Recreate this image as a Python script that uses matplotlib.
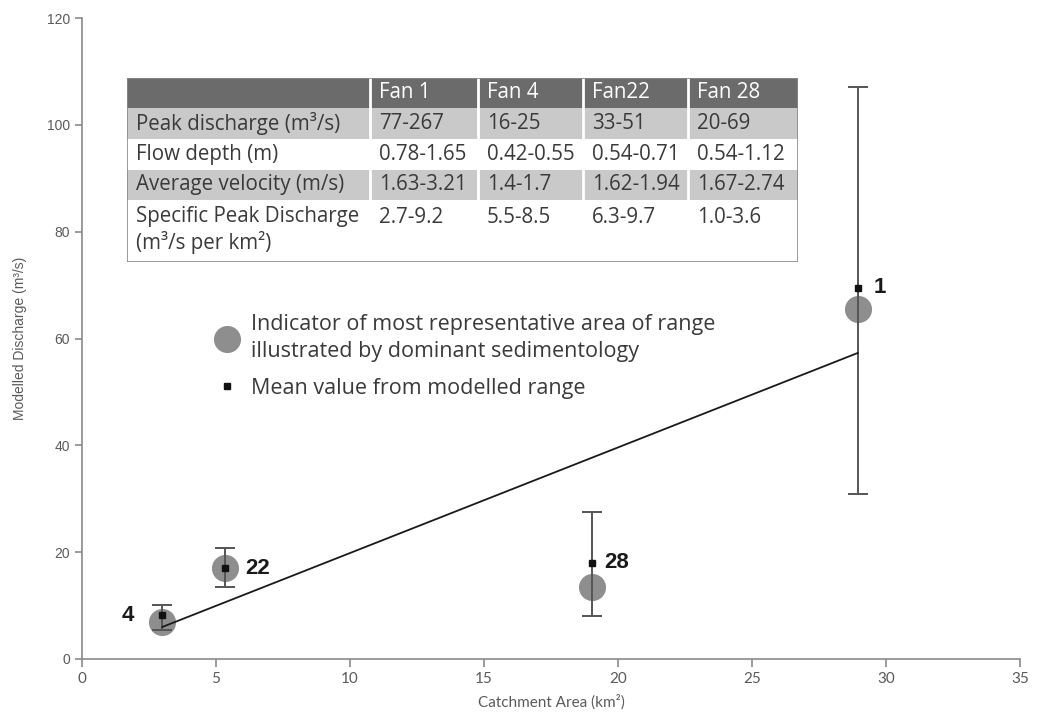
import numpy as np
import matplotlib.pyplot as plt
from matplotlib.patches import Rectangle

# fan data
fans = ['1', '4', '22', '28']
area = np.array([28.95, 3.0, 5.35, 19.03])
representative = np.array([65.6, 6.9, 17.0, 13.5])
mean_value = np.array([69.5, 8.2, 17.0, 18.0])
range_low = np.array([30.9, 5.5, 13.5, 8.0])
range_high = np.array([107.1, 10.1, 20.8, 27.5])

trend_x = [3.0, 28.95]
trend_y = [6.0, 57.3]

# table contents
col_labels = ['', 'Fan 1', 'Fan 4', 'Fan22', 'Fan 28']
row_labels = ['Peak discharge (m³/s)', 'Flow depth (m)', 'Average velocity (m/s)',
              'Specific Peak Discharge\n(m³/s per km²)']
cells = [['77-267', '16-25', '33-51', '20-69'],
         ['0.78-1.65', '0.42-0.55', '0.54-0.71', '0.54-1.12'],
         ['1.63-3.21', '1.4-1.7', '1.62-1.94', '1.67-2.74'],
         ['2.7-9.2', '5.5-8.5', '6.3-9.7', '1.0-3.6']]

W, H = 1037, 725
fig = plt.figure(figsize=(W / 100, H / 100), dpi=100)
ax = fig.add_axes([82 / W, 1 - 659 / H, 938 / W, 641 / H])

txt_font = 'Open Sans'
tsize = 14.8
lsize = 15.5

pc, = ax.plot(area, representative, 'o', color='#8e8e8e', markersize=18.5, zorder=2,
              label='Indicator of most representative area of range\nillustrated by dominant sedimentology')
ax.errorbar(area, mean_value, yerr=[mean_value - range_low, range_high - mean_value],
            fmt='none', ecolor='#555555', elinewidth=1.4, capsize=7.5, capthick=1.4, zorder=3)
ax.plot(trend_x, trend_y, color='#1a1a1a', lw=1.3, zorder=3)
ps, = ax.plot(area, mean_value, 's', color='#111111', markersize=5, zorder=4,
              label='Mean value from modelled range')

offsets = {'1': (11, 0), '4': (-29, 0), '22': (14, 0), '28': (9, 0)}
for f, x, y in zip(fans, area, mean_value):
    dx, dy = offsets[f]
    ax.annotate(f, (x, y), xytext=(dx, dy), textcoords='offset points',
                ha='left', va='center', fontsize=16, fontweight='bold',
                family='Liberation Sans', color='#1a1a1a')

ax.set_xlim(0, 35)
ax.set_ylim(0, 120)
ax.set_xticks(range(0, 36, 5))
ax.set_yticks(range(0, 121, 20))
for s in ['top', 'right']:
    ax.spines[s].set_visible(False)
for s in ['left', 'bottom']:
    ax.spines[s].set_color('#8a8a8a')
    ax.spines[s].set_linewidth(1.2)
ax.tick_params(axis='both', colors='#8a8a8a', labelcolor='#5a5a5a', width=1.2)
ax.tick_params(axis='x', length=6, labelsize=11)
ax.tick_params(axis='y', length=5, labelsize=10)
for lab in ax.get_xticklabels():
    lab.set_family('Lato')
for lab in ax.get_yticklabels():
    lab.set_family('Liberation Sans')
ax.set_xlabel('Catchment Area (km²)', fontsize=11, color='#5a5a5a', family='Lato', labelpad=6)
ax.set_ylabel('Modelled Discharge (m³/s)', fontsize=10, color='#5a5a5a',
              family='Liberation Sans', labelpad=14)

leg = ax.legend(handles=[pc, ps], loc='upper left', bbox_to_anchor=(0.134, 0.551),
                frameon=False, prop={'family': txt_font, 'size': lsize}, labelcolor='#3a3a3a',
                handlelength=1.0, handletextpad=0.62, labelspacing=0.73, borderaxespad=0)
for t in leg.get_texts():
    t.set_linespacing(1.35)

# table drawn in pixel units
tx0, ty0, tw, th = 127, 78, 671, 184
tab = fig.add_axes([tx0 / W, 1 - (ty0 + th) / H, tw / W, th / H])
tab.set_xlim(0, tw)
tab.set_ylim(th, 0)
tab.axis('off')
col_edges = [0, 243, 351, 456, 561, tw]
row_edges = [0, 30, 61, 92, 122, th]
row_colors = ['#6b6b6b', '#c9c9c9', '#ffffff', '#c9c9c9', '#ffffff']
for r in range(5):
    tab.add_patch(Rectangle((0, row_edges[r]), tw, row_edges[r + 1] - row_edges[r],
                            facecolor=row_colors[r], edgecolor='none', zorder=1))
for c in col_edges[1:-1]:
    tab.plot([c, c], [0, row_edges[4]], color='white', lw=2, zorder=2)
tab.add_patch(Rectangle((0, 0), tw, th, facecolor='none', edgecolor='#8a8a8a', lw=1.2, zorder=3))

for c in range(1, 5):
    tab.text(col_edges[c] + 9, 15, col_labels[c], color='white', fontsize=tsize,
             family=txt_font, fontweight='medium', va='center', ha='left')
for r in range(4):
    if r < 3:
        yc = (row_edges[r + 1] + row_edges[r + 2]) / 2
        tab.text(9, yc, row_labels[r], color='#3a3a3a', fontsize=tsize, family=txt_font,
                 va='center', ha='left')
    else:
        yc = 140
        tab.text(9, 128, row_labels[r], color='#3a3a3a', fontsize=tsize, family=txt_font,
                 va='top', ha='left', linespacing=1.2)
    for c in range(4):
        tab.text(col_edges[c + 1] + 9, yc, cells[r][c], color='#3a3a3a', fontsize=tsize,
                 family=txt_font, va='center', ha='left')

fig.savefig('out.png', dpi=100)
